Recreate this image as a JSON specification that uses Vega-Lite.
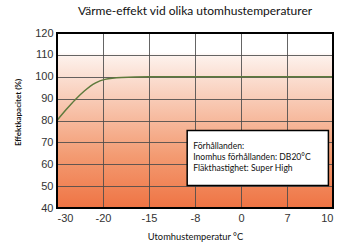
{
  "$schema": "https://vega.github.io/schema/vega-lite/v6.json",
  "width": 276,
  "height": 175,
  "autosize": {"type": "none"},
  "padding": {"left": 57, "top": 33, "right": 17, "bottom": 35},
  "background": "white",
  "title": {
    "text": "Värme-effekt vid olika utomhustemperaturer",
    "font": "Lato",
    "fontSize": 12,
    "fontWeight": "normal",
    "color": "#111",
    "anchor": "middle",
    "offset": 9
  },
  "config": {
    "view": {
      "stroke": null,
      "fill": {
        "gradient": "linear",
        "x1": 0, "y1": 0, "x2": 0, "y2": 1,
        "stops": [
          {"offset": 0, "color": "#ffffff"},
          {"offset": 0.11, "color": "#ffffff"},
          {"offset": 0.14, "color": "#fdf0ea"},
          {"offset": 0.4, "color": "#f8c8b2"},
          {"offset": 0.7, "color": "#f39b72"},
          {"offset": 1, "color": "#ef7444"}
        ]
      }
    },
    "axis": {
      "grid": true,
      "gridColor": "#4a4a4a",
      "gridWidth": 1,
      "gridOpacity": 0.85,
      "domain": false,
      "ticks": false,
      "labelFont": "Liberation Sans",
      "labelFontSize": 11,
      "labelColor": "#333",
      "titleFontWeight": "normal",
      "titleColor": "#111"
    }
  },
  "datasets": {
    "curve": [
      {"pos": 0, "effekt": 80},
      {"pos": 0.2, "effekt": 85},
      {"pos": 0.39, "effekt": 89.4},
      {"pos": 0.6, "effekt": 93.6},
      {"pos": 0.83, "effekt": 97.1},
      {"pos": 1.04, "effekt": 98.8},
      {"pos": 1.4, "effekt": 99.7},
      {"pos": 2, "effekt": 100},
      {"pos": 3, "effekt": 100},
      {"pos": 4, "effekt": 100},
      {"pos": 5, "effekt": 100},
      {"pos": 6, "effekt": 100}
    ],
    "frame": [{"x0": 0, "x1": 6, "y0": 40, "y1": 120}],
    "box": [{"x0": 2.83, "x1": 5.9, "y0": 50.3, "y1": 75.4}],
    "notes": [
      {"pos": 2.96, "val": 68.3, "text": "Förhållanden:"},
      {"pos": 2.96, "val": 63.3, "text": "Inomhus förhållanden: DB20°C"},
      {"pos": 2.96, "val": 58.3, "text": "Fläkthastighet: Super High"}
    ]
  },
  "encoding": {
    "x": {
      "field": "pos", "type": "quantitative",
      "scale": {"domain": [0, 6], "nice": false, "zero": false},
      "axis": {
        "values": [0, 1, 2, 3, 4, 5, 6],
        "labelExpr": "['-30','-20','-15','-8','0','7','10'][datum.value]",
        "labelPadding": 4,
        "title": "Utomhustemperatur °C",
        "titleFont": "Lato",
        "titleFontSize": 9.3,
        "titlePadding": 9
      }
    },
    "y": {
      "field": "effekt", "type": "quantitative",
      "scale": {"domain": [40, 120], "nice": false, "zero": false},
      "axis": {
        "values": [40, 50, 60, 70, 80, 90, 100, 110, 120],
        "labelPadding": 4,
        "title": "Effektkapacitet (%)",
        "titleFont": "Lato",
        "titleFontSize": 8,
        "titleFontWeight": "bold",
        "titleX": -39,
        "titleY": 79,
        "titleAngle": -90,
        "titleAlign": "center",
        "titleBaseline": "middle"
      }
    }
  },
  "layer": [
    {
      "data": {"name": "curve"},
      "mark": {"type": "line", "interpolate": "monotone", "color": "#5e7a3c", "strokeWidth": 1.5}
    },
    {
      "data": {"name": "frame"},
      "mark": {"type": "rect", "fill": null, "stroke": "#000", "strokeWidth": 2},
      "encoding": {
        "x": {"field": "x0", "type": "quantitative"},
        "x2": {"field": "x1"},
        "y": {"field": "y0", "type": "quantitative"},
        "y2": {"field": "y1"}
      }
    },
    {
      "data": {"name": "box"},
      "mark": {"type": "rect", "fill": "#ffffff", "stroke": "#000", "strokeWidth": 1.5},
      "encoding": {
        "x": {"field": "x0", "type": "quantitative"},
        "x2": {"field": "x1"},
        "y": {"field": "y0", "type": "quantitative"},
        "y2": {"field": "y1"}
      }
    },
    {
      "data": {"name": "notes"},
      "mark": {"type": "text", "align": "left", "baseline": "middle", "font": "Lato", "fontSize": 8.6, "color": "#111"},
      "encoding": {
        "x": {"field": "pos", "type": "quantitative"},
        "y": {"field": "val", "type": "quantitative"},
        "text": {"field": "text"}
      }
    }
  ]
}
